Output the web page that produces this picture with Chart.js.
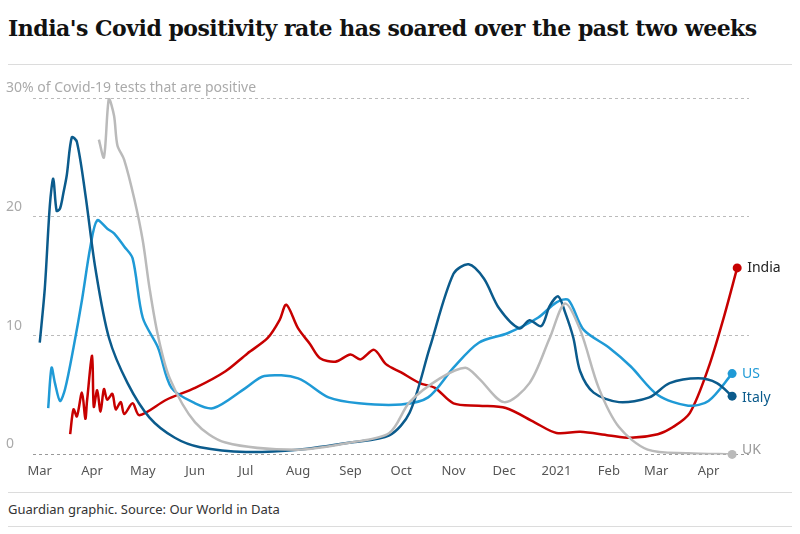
<!DOCTYPE html>
<html>
<head>
<meta charset="UTF-8">
<style>
  body { margin: 0; background: #fff; font-family: "Noto Sans", Arial, sans-serif; width: 800px; height: 534px; overflow: hidden; }
  h1 { font-family: "DejaVu Serif", Georgia, serif; font-size: 22px; font-weight: bold; color: #121212; margin: 0; position: absolute; left: 8px; top: 15px; letter-spacing: -0.5px; }
  .wrap { position: absolute; left: 0; top: 70px; width: 790px; height: 412px; }
  .foot { position: absolute; left: 8px; top: 500px; font-size: 13px; color: #333; }
  .line { position: absolute; left: 8px; right: 8px; height: 1px; background: #dcdcdc; }
</style>
</head>
<body>
<h1>India's Covid positivity rate has soared over the past two weeks</h1>
<div class="line" style="top:64px"></div>
<div class="wrap"><canvas id="c"></canvas></div>
<div class="line" style="top:492px"></div>
<div class="foot">Guardian graphic. Source: Our World in Data</div>
<div class="line" style="top:526px"></div>
<script src="https://cdn.jsdelivr.net/npm/chart.js"></script>
<script>
// x = days since 1 Mar 2020
const monthDays = [0, 31, 61, 92, 122, 153, 184, 214, 245, 275, 306, 337, 365, 396];
const monthLabels = ['Mar', 'Apr', 'May', 'Jun', 'Jul', 'Aug', 'Sep', 'Oct', 'Nov', 'Dec', '2021', 'Feb', 'Mar', 'Apr'];
const yTicks = [0, 10, 20, 30];

const indiaDays = [18, 20, 22, 25, 27, 28, 31, 32, 34, 36, 38, 40, 43, 45, 48, 50, 55, 59, 75, 92, 110, 123, 135, 142, 146, 153, 160, 166, 175, 184, 190, 198, 205, 214, 225, 234, 245, 260, 276, 293, 306, 320, 337, 350, 366, 375, 385, 396, 405, 413];
const indiaVals = [1.7, 3.8, 3.2, 5.2, 3.0, 4.5, 8.3, 4.0, 5.4, 3.6, 5.5, 4.6, 5.1, 3.8, 4.4, 3.4, 4.3, 3.3, 4.6, 5.6, 7.0, 8.5, 9.8, 11.3, 12.6, 10.6, 9.3, 8.1, 7.8, 8.4, 8.0, 8.8, 7.6, 6.9, 6.0, 5.6, 4.3, 4.1, 3.9, 2.7, 1.8, 1.9, 1.6, 1.4, 1.7, 2.3, 3.5, 7.3, 11.5, 15.7];

const usDays = [5, 7, 9, 12, 15, 20, 25, 30, 34, 40, 44, 50, 55, 61, 70, 78, 92, 103, 122, 133, 153, 171, 189, 214, 230, 245, 260, 277, 295, 306, 313, 322, 337, 350, 366, 384, 396, 410];
const usVals = [3.9, 7.3, 6.0, 4.5, 5.5, 9.0, 13.0, 17.5, 19.7, 19.0, 18.6, 17.5, 16.5, 11.5, 9.0, 5.6, 4.3, 3.9, 5.6, 6.6, 6.4, 4.8, 4.3, 4.2, 4.8, 7.3, 9.4, 10.2, 11.5, 12.8, 13.0, 10.5, 9.0, 7.4, 5.0, 4.1, 4.5, 6.8];

const italyDays = [0, 3, 6, 8, 10, 12, 14, 16, 19, 22, 27, 33, 41, 52, 65, 80, 95, 122, 153, 184, 207, 219, 231, 245, 254, 263, 272, 284, 290, 297, 302, 307, 311, 316, 320, 328, 343, 361, 373, 390, 401, 410];
const italyVals = [9.4, 14.0, 21.0, 23.2, 20.5, 20.7, 22.0, 23.5, 26.7, 26.3, 21.9, 15.6, 9.8, 6.0, 3.1, 1.4, 0.6, 0.2, 0.4, 1.0, 1.6, 3.5, 9.0, 15.2, 16.0, 14.8, 12.3, 10.6, 11.3, 10.8, 12.5, 13.3, 12.0, 9.8, 7.0, 5.2, 4.4, 4.8, 6.0, 6.4, 6.0, 4.9];

const ukDays = [35, 38, 41, 44, 46, 50, 56, 61, 65, 70, 77, 92, 110, 153, 184, 207, 219, 237, 252, 260, 275, 290, 302, 311, 320, 331, 343, 360, 384, 410];
const ukVals = [26.5, 25.0, 30.0, 28.5, 26.0, 24.8, 21.5, 18.0, 14.0, 10.0, 6.4, 2.7, 1.0, 0.4, 1.0, 1.8, 4.4, 6.4, 7.3, 6.4, 4.4, 6.0, 9.8, 12.7, 10.5, 5.6, 2.3, 0.4, 0.1, 0.0];

const toPts = (d, v) => d.map((x, i) => ({ x: x, y: v[i] }));
const series = [
  { name: 'India', days: indiaDays, vals: indiaVals, color: '#c70000' },
  { name: 'US', days: usDays, vals: usVals, color: '#1f9ad6' },
  { name: 'Italy', days: italyDays, vals: italyVals, color: '#0b5b8c' },
  { name: 'UK', days: ukDays, vals: ukVals, color: '#bababa' }
];

const endLabels = {
  id: 'endLabels',
  afterDatasetsDraw(chart) {
    const c = chart.ctx;
    const offsets = { India: 0, US: 0, Italy: 2, UK: -4 };
    chart.data.datasets.forEach((ds, i) => {
      const meta = chart.getDatasetMeta(i);
      const p = meta.data[meta.data.length - 1];
      c.save();
      c.fillStyle = ds.borderColor;
      c.beginPath(); c.arc(p.x, p.y, 4.5, 0, Math.PI * 2); c.fill();
      c.font = '14px "Noto Sans", Arial';
      c.fillStyle = ds.label === 'UK' ? '#999' : (ds.label === 'India' ? '#222' : ds.borderColor);
      c.textBaseline = 'middle';
      c.fillText(ds.label, p.x + 10, p.y + offsets[ds.label]);
      c.restore();
    });
    // y axis caption
    const y = chart.scales.y;
    c.save();
    c.font = '14px "Noto Sans", Arial';
    c.fillStyle = '#aaa';
    c.textBaseline = 'bottom';
    c.fillText('30% of Covid-19 tests that are positive', 6, y.getPixelForValue(30) - 3);
    [0, 10, 20].forEach(v => c.fillText(String(v), 6, y.getPixelForValue(v) - 3));
    c.restore();
  }
};

new Chart(document.getElementById('c'), {
  type: 'line',
  data: {
    datasets: series.map(s => ({
      label: s.name,
      data: toPts(s.days, s.vals),
      borderColor: s.color,
      borderWidth: 2.5,
      pointRadius: 0,
      tension: 0.3,
      fill: false
    })).reverse()
  },
  options: {
    responsive: true,
    maintainAspectRatio: false,
    animation: false,
    layout: { padding: { left: 33, right: 41, top: 28, bottom: 0 } },
    plugins: { legend: { display: false }, tooltip: { enabled: false } },
    scales: {
      x: {
        type: 'linear', min: -4, max: 420,
        afterBuildTicks: a => { a.ticks = monthDays.map(v => ({ value: v })); },
        ticks: { callback: (v) => monthLabels[monthDays.indexOf(v)], color: '#555', font: { size: 13, family: 'Noto Sans' }, maxRotation: 0, autoSkip: false },
        grid: { display: false, drawTicks: true, tickLength: 6 },
        border: { display: false }
      },
      y: {
        min: 0, max: 30,
        afterBuildTicks: a => { a.ticks = yTicks.map(v => ({ value: v })); },
        ticks: { display: false },
        grid: { color: c => c.tick.value === 0 ? '#999' : '#bbb', drawTicks: false },
        border: { display: false, dash: [3, 3] },
        afterFit: a => { a.width = 0; }
      }
    }
  },
  plugins: [endLabels]
});
</script>
</body>
</html>
